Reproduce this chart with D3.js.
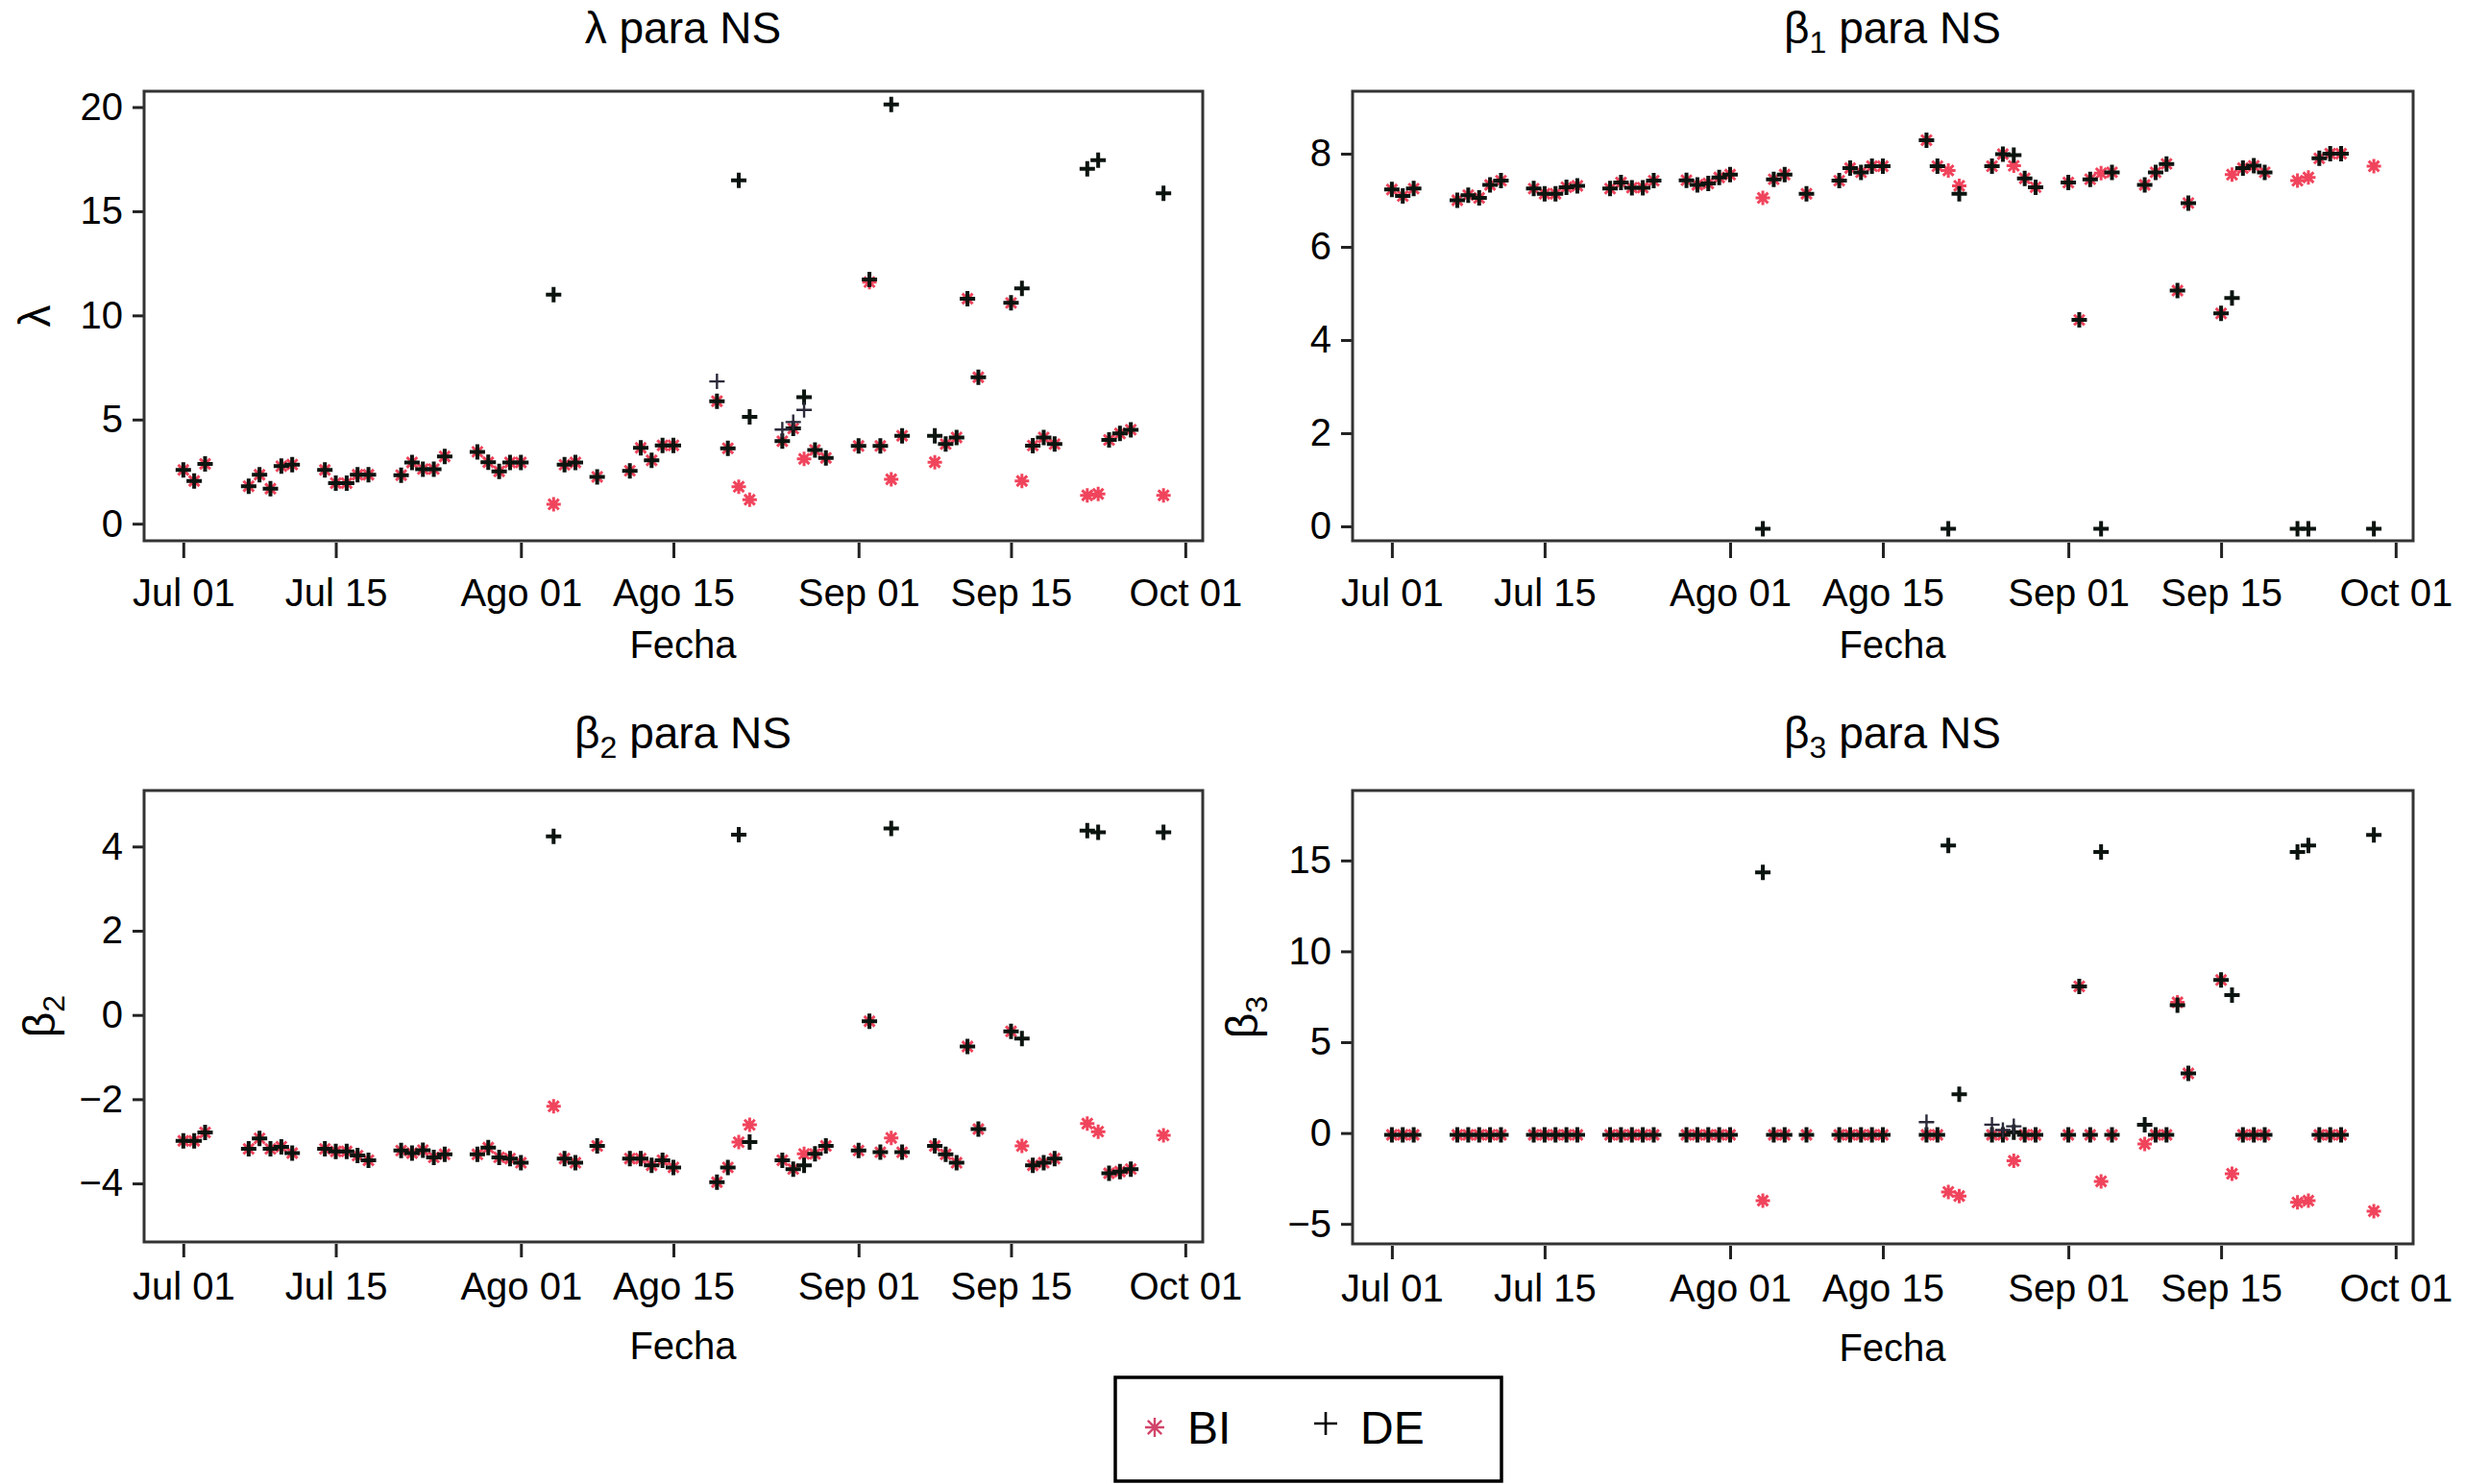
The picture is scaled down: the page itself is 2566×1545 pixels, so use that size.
<!DOCTYPE html>
<html>
<head>
  <meta charset="utf-8">
  <script src="https://cdn.jsdelivr.net/npm/d3@7"></script>
  <style>
    body { margin: 0; background: #fff; }
    svg text { font-family: "Liberation Sans", Arial, Helvetica, sans-serif; fill: #000; }
  </style>
</head>
<body>
<svg id="chart" width="2566" height="1545"></svg>

<script>

  // trading days shown on the x axis
  var fechas = [
    '2008-07-01','2008-07-02','2008-07-03','2008-07-07','2008-07-08','2008-07-09','2008-07-10','2008-07-11',
    '2008-07-14','2008-07-15','2008-07-16','2008-07-17','2008-07-18','2008-07-21','2008-07-22','2008-07-23',
    '2008-07-24','2008-07-25','2008-07-28','2008-07-29','2008-07-30','2008-07-31',
    '2008-08-01','2008-08-04','2008-08-05','2008-08-06','2008-08-08','2008-08-11','2008-08-12','2008-08-13',
    '2008-08-14','2008-08-15','2008-08-19','2008-08-20','2008-08-21','2008-08-22','2008-08-25','2008-08-26',
    '2008-08-27','2008-08-28','2008-08-29',
    '2008-09-01','2008-09-02','2008-09-03','2008-09-04','2008-09-05','2008-09-08','2008-09-09','2008-09-10',
    '2008-09-11','2008-09-12','2008-09-15','2008-09-16','2008-09-17','2008-09-18','2008-09-19','2008-09-22',
    '2008-09-23','2008-09-24','2008-09-25','2008-09-26','2008-09-29'
  ];

  // lambda
  var lambdaDE = [
    2.58, 2.05, 2.87, 1.80, 2.35, 1.68, 2.76, 2.84, 2.58, 1.95, 1.95, 2.35, 2.35, 2.33, 2.94, 2.62, 2.62, 3.23, 3.45, 2.95, 2.51, 2.94,
    2.94, 11.0, 2.83, 2.94, 2.25, 2.54, 3.64, 3.04, 3.76, 3.76, 5.88, 3.62, 16.48, 5.13, 3.96, 4.57, 6.07, 3.54, 3.16,
    3.73, 11.72, 3.73, 20.13, 4.22, 4.22, 3.82, 4.14, 10.8, 7.03, 10.6, 11.29, 3.75, 4.14, 3.82, 17.04, 17.45, 4.02, 4.33, 4.51, 15.86
  ];
  var lambdaBI = [
    2.58, 2.05, 2.87, 1.80, 2.35, 1.68, 2.76, 2.84, 2.58, 1.95, 1.95, 2.35, 2.35, 2.33, 2.94, 2.62, 2.62, 3.23, 3.45, 2.95, 2.51, 2.94,
    2.94, 0.93, 2.83, 2.94, 2.25, 2.54, 3.64, 3.04, 3.76, 3.76, 5.88, 3.62, 1.77, 1.15, 3.96, 4.57, 3.11, 3.54, 3.16,
    3.73, 11.6, 3.73, 2.13, 4.22, 2.95, 3.82, 4.14, 10.8, 7.03, 10.6, 2.05, 3.75, 4.14, 3.82, 1.36, 1.43, 4.02, 4.33, 4.51, 1.36
  ];

  // beta 1
  var beta1DE = [
    7.23, 7.09, 7.25, 7.00, 7.11, 7.05, 7.33, 7.42, 7.25, 7.14, 7.14, 7.28, 7.31, 7.25, 7.38, 7.27, 7.27, 7.42, 7.43, 7.33, 7.36, 7.49,
    7.55, -0.05, 7.45, 7.55, 7.14, 7.42, 7.69, 7.60, 7.73, 7.73, 8.29, 7.73, -0.05, 7.14, 7.73, 7.99, 7.97, 7.47, 7.28,
    7.38, 4.43, 7.45, -0.05, 7.60, 7.33, 7.60, 7.78, 5.06, 6.94, 4.57, 4.90, 7.69, 7.74, 7.60, -0.05, -0.05, 7.90, 8.00, 8.00, -0.05
  ];
  var beta1BI = [
    7.23, 7.09, 7.25, 7.00, 7.11, 7.05, 7.33, 7.42, 7.25, 7.14, 7.14, 7.28, 7.31, 7.25, 7.38, 7.27, 7.27, 7.42, 7.43, 7.33, 7.36, 7.49,
    7.55, 7.05, 7.45, 7.55, 7.14, 7.42, 7.69, 7.60, 7.73, 7.73, 8.29, 7.73, 7.64, 7.31, 7.73, 7.99, 7.74, 7.47, 7.28,
    7.38, 4.43, 7.45, 7.58, 7.60, 7.33, 7.60, 7.78, 5.06, 6.94, 4.57, 7.55, 7.69, 7.74, 7.60, 7.42, 7.49, 7.90, 8.00, 8.00, 7.73
  ];

  // beta 2
  var beta2DE = [
    -2.99, -2.99, -2.79, -3.18, -2.93, -3.18, -3.13, -3.28, -3.18, -3.24, -3.24, -3.34, -3.45, -3.22, -3.28, -3.21, -3.38, -3.31, -3.31, -3.15, -3.38, -3.41,
    -3.51, 4.24, -3.41, -3.51, -3.11, -3.41, -3.41, -3.57, -3.45, -3.62, -3.97, -3.62, 4.28, -3.02, -3.45, -3.66, -3.57, -3.30, -3.11,
    -3.22, -0.15, -3.26, 4.43, -3.26, -3.11, -3.31, -3.51, -0.75, -2.71, -0.39, -0.56, -3.57, -3.51, -3.41, 4.38, 4.34, -3.76, -3.72, -3.66, 4.34
  ];
  var beta2BI = [
    -2.99, -2.99, -2.79, -3.18, -2.93, -3.18, -3.13, -3.28, -3.18, -3.24, -3.24, -3.34, -3.45, -3.22, -3.28, -3.21, -3.38, -3.31, -3.31, -3.15, -3.38, -3.41,
    -3.51, -2.17, -3.41, -3.51, -3.11, -3.41, -3.41, -3.57, -3.45, -3.62, -3.97, -3.62, -3.02, -2.61, -3.45, -3.66, -3.30, -3.30, -3.11,
    -3.22, -0.15, -3.26, -2.92, -3.26, -3.11, -3.31, -3.51, -0.75, -2.71, -0.39, -3.11, -3.57, -3.51, -3.41, -2.58, -2.77, -3.76, -3.72, -3.66, -2.86
  ];

  // beta 3
  var beta3DE = [
    -0.1, -0.1, -0.1, -0.1, -0.1, -0.1, -0.1, -0.1, -0.1, -0.1, -0.1, -0.1, -0.1, -0.1, -0.1, -0.1, -0.1, -0.1, -0.1, -0.1, -0.1, -0.1,
    -0.1, 14.34, -0.1, -0.1, -0.1, -0.1, -0.1, -0.1, -0.1, -0.1, -0.1, -0.1, 15.82, 2.13, -0.1, -0.1, 0.05, -0.1, -0.1,
    -0.1, 8.07, -0.1, 15.47, -0.1, 0.46, -0.1, -0.1, 7.03, 3.28, 8.42, 7.59, -0.1, -0.1, -0.1, 15.47, 15.82, -0.1, -0.1, -0.1, 16.40
  ];
  var beta3BI = [
    -0.1, -0.1, -0.1, -0.1, -0.1, -0.1, -0.1, -0.1, -0.1, -0.1, -0.1, -0.1, -0.1, -0.1, -0.1, -0.1, -0.1, -0.1, -0.1, -0.1, -0.1, -0.1,
    -0.1, -3.72, -0.1, -0.1, -0.1, -0.1, -0.1, -0.1, -0.1, -0.1, -0.1, -0.1, -3.24, -3.47, -0.1, -0.1, -1.53, -0.1, -0.1,
    -0.1, 8.07, -0.1, -2.66, -0.1, -0.60, -0.1, -0.1, 7.19, 3.28, 8.42, -2.24, -0.1, -0.1, -0.1, -3.82, -3.72, -0.1, -0.1, -0.1, -4.30
  ];

  // a few days with a second DE estimate drawn on top
  var fechasExtra = ['2008-08-19', '2008-08-25', '2008-08-26', '2008-08-27'];
  var lambdaExtra = [6.83, 4.52, 4.88, 5.46];
  var beta3Extra = [0.60, 0.46, 0.16, 0.37];

  var xTicks = ['2008-07-01', '2008-07-15', '2008-08-01', '2008-08-15', '2008-09-01', '2008-09-15', '2008-10-01'];

  var parse = d3.utcParse('%Y-%m-%d');
  var dia = 864e5;
  var t0 = parse('2008-07-01');

  var es = d3.timeFormatLocale({
    dateTime: '%A, %e de %B de %Y, %X', date: '%d/%m/%Y', time: '%H:%M:%S', periods: ['AM', 'PM'],
    days: ['domingo', 'lunes', 'martes', 'miércoles', 'jueves', 'viernes', 'sábado'],
    shortDays: ['dom', 'lun', 'mar', 'mié', 'jue', 'vie', 'sáb'],
    months: ['enero', 'febrero', 'marzo', 'abril', 'mayo', 'junio', 'julio', 'agosto', 'septiembre', 'octubre', 'noviembre', 'diciembre'],
    shortMonths: ['Ene', 'Feb', 'Mar', 'Abr', 'May', 'Jun', 'Jul', 'Ago', 'Sep', 'Oct', 'Nov', 'Dic']
  });
  var fmt = es.utcFormat('%b %d');

  // row 0 = top panels, row 1 = bottom panels
  var paneles = [
    { sym: 'λ', sub: '', ylab: 'λ', ylabX: 36, row: 0, box: [150, 95, 1252, 563], dom: [-0.82, 20.76], ticks: [0, 5, 10, 15, 20],
      de: lambdaDE, bi: lambdaBI, extra: lambdaExtra },
    { sym: 'β', sub: '1', ylab: null, row: 0, box: [1408, 95, 2512, 563], dom: [-0.31, 9.34], ticks: [0, 2, 4, 6, 8],
      de: beta1DE, bi: beta1BI, extra: null },
    { sym: 'β', sub: '2', ylab: 'β', ylabX: 41, row: 1, box: [150, 823, 1252, 1293], dom: [-5.39, 5.33], ticks: [-4, -2, 0, 2, 4],
      de: beta2DE, bi: beta2BI, extra: null },
    { sym: 'β', sub: '3', ylab: 'β', ylabX: 1293, row: 1, box: [1408, 823, 2512, 1295], dom: [-6.1, 18.85], ticks: [-5, 0, 5, 10, 15],
      de: beta3DE, bi: beta3BI, extra: beta3Extra }
  ];

  var rojo = '#f0445c';

  function plus(s) { return 'M' + (-s) + ',0H' + s + 'M0,' + (-s) + 'V' + s; }
  function star(s) {
    var d = s * 0.72;
    return plus(s) + 'M' + (-d) + ',' + (-d) + 'L' + d + ',' + d + 'M' + (-d) + ',' + d + 'L' + d + ',' + (-d);
  }

  var svg = d3.select('#chart');

  paneles.forEach(function(p) {
    var b = p.box;
    var x = d3.scaleUtc()
      .domain([new Date(+t0 - 3.6 * dia), new Date(+t0 + 93.6 * dia)])
      .range([b[0], b[2]]);
    var y = d3.scaleLinear().domain(p.dom).range([b[3], b[1]]);
    var cx = (b[0] + b[2]) / 2 + 10;

    var g = svg.append('g');

    // x axis
    var ax = g.append('g')
      .attr('transform', 'translate(0,' + (b[3] + 2) + ')')
      .call(d3.axisBottom(x).tickValues(xTicks.map(parse)).tickFormat(fmt)
        .tickSize(p.row ? 14 : 16).tickPadding(p.row ? 16 : 22));
    ax.select('.domain').remove();
    ax.selectAll('line').attr('stroke', '#222').attr('stroke-width', 3);
    ax.selectAll('text').style('font-size', '40px').attr('fill', '#000');

    // y axis
    var ay = g.append('g')
      .attr('transform', 'translate(' + (b[0] - 1) + ',0)')
      .call(d3.axisLeft(y).tickValues(p.ticks).tickSize(11).tickPadding(10));
    ay.select('.domain').remove();
    ay.selectAll('line').attr('stroke', '#222').attr('stroke-width', 3);
    ay.selectAll('text').style('font-size', '40px').attr('fill', '#000');

    // panel box
    g.append('rect')
      .attr('x', b[0]).attr('y', b[1])
      .attr('width', b[2] - b[0]).attr('height', b[3] - b[1])
      .attr('fill', 'none').attr('stroke', '#333').attr('stroke-width', 3);

    // BI first, DE on top
    g.append('g').selectAll('path')
      .data(fechas.map(function(f, i) { return { t: parse(f), v: p.bi[i] }; }))
      .enter().append('path')
      .attr('transform', function(d) { return 'translate(' + x(d.t) + ',' + y(d.v) + ')'; })
      .attr('d', star(7.5))
      .attr('stroke', rojo).attr('stroke-width', 3).attr('fill', 'none');

    g.append('g').selectAll('path')
      .data(fechas.map(function(f, i) { return { t: parse(f), v: p.de[i] }; }))
      .enter().append('path')
      .attr('transform', function(d) { return 'translate(' + x(d.t) + ',' + y(d.v) + ')'; })
      .attr('d', plus(8))
      .attr('stroke', '#0c140f').attr('stroke-width', 4).attr('fill', 'none');

    if (p.extra) {
      g.append('g').selectAll('path')
        .data(fechasExtra.map(function(f, i) { return { t: parse(f), v: p.extra[i] }; }))
        .enter().append('path')
        .attr('transform', function(d) { return 'translate(' + x(d.t) + ',' + y(d.v) + ')'; })
        .attr('d', plus(8))
        .attr('stroke', '#2a2a3a').attr('stroke-width', 2.4).attr('fill', 'none');
    }

    // title
    var tt = g.append('text')
      .attr('x', cx).attr('y', b[1] - (p.row ? 44 : 50))
      .attr('text-anchor', 'middle')
      .style('font-size', '46px');
    tt.append('tspan').text(p.sym);
    if (p.sub) tt.append('tspan').attr('dy', 10).style('font-size', '32px').text(p.sub);
    tt.append('tspan').attr('dy', p.sub ? -10 : 0).text(' para NS');

    // x label
    g.append('text')
      .attr('x', cx).attr('y', b[3] + 122)
      .attr('text-anchor', 'middle')
      .style('font-size', '40px')
      .text('Fecha');

    // y label, rotated
    if (p.ylab) {
      var yl = g.append('text')
        .attr('transform', 'translate(' + p.ylabX + ',' + ((b[1] + b[3]) / 2) + ') rotate(-90)')
        .attr('text-anchor', 'middle')
        .attr('dy', '0.35em')
        .style('font-size', '46px');
      yl.append('tspan').text(p.ylab);
      if (p.sub) yl.append('tspan').attr('dy', 10).style('font-size', '32px').text(p.sub);
    }
  });

  // legend
  var leg = svg.append('g');
  leg.append('rect')
    .attr('x', 1161).attr('y', 1434).attr('width', 402).attr('height', 108)
    .attr('fill', '#fff').attr('stroke', '#000').attr('stroke-width', 3.5);
  leg.append('path')
    .attr('transform', 'translate(1202,1486)')
    .attr('d', star(10))
    .attr('stroke', '#d2456a').attr('stroke-width', 2.4).attr('fill', 'none');
  leg.append('text').attr('x', 1236).attr('y', 1503).style('font-size', '48px').text('BI');
  leg.append('path')
    .attr('transform', 'translate(1380,1482)')
    .attr('d', plus(12))
    .attr('stroke', '#000').attr('stroke-width', 2.6).attr('fill', 'none');
  leg.append('text').attr('x', 1416).attr('y', 1503).style('font-size', '48px').text('DE');

</script>
</body>
</html>
